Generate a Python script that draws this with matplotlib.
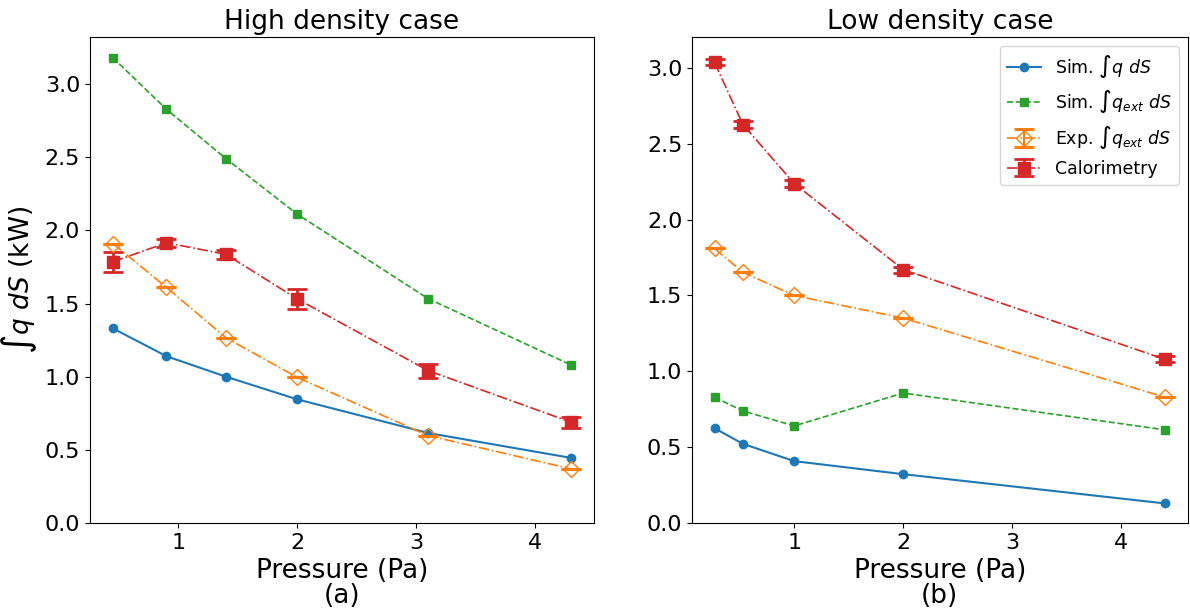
import matplotlib
matplotlib.use("Agg")
import matplotlib.pyplot as plt

# High density case
p_high = [0.45, 0.9, 1.4, 2.0, 3.1, 4.3]
sim_q_high = [1.33, 1.14, 1.00, 0.845, 0.615, 0.445]
sim_qext_high = [3.18, 2.827, 2.49, 2.11, 1.533, 1.08]
exp_qext_high = [1.91, 1.61, 1.266, 0.995, 0.597, 0.37]
exp_err_high = [0.0, 0.0, 0.0, 0.0, 0.0, 0.0]
cal_high = [1.785, 1.915, 1.836, 1.531, 1.041, 0.689]
cal_err_high = [0.07, 0.027, 0.032, 0.068, 0.048, 0.038]

# Low density case
p_low = [0.27, 0.53, 1.0, 2.0, 4.4]
sim_q_low = [0.625, 0.522, 0.408, 0.322, 0.129]
sim_qext_low = [0.829, 0.739, 0.64, 0.857, 0.614]
exp_qext_low = [1.81, 1.653, 1.5, 1.351, 0.829]
exp_err_low = [0.0, 0.0, 0.0, 0.0, 0.0]
cal_low = [3.037, 2.627, 2.238, 1.671, 1.079]
cal_err_low = [0.02, 0.02, 0.02, 0.02, 0.02]

labels = [r"Sim. $\int q\ dS$", r"Sim. $\int q_{ext}\ dS$",
          r"Exp. $\int q_{ext}\ dS$", "Calorimetry"]

fig = plt.figure(figsize=(11.9, 6.12), dpi=100)
ax1 = fig.add_axes([0.0756, 0.1454, 0.4235, 0.794])
ax2 = fig.add_axes([0.5815, 0.1454, 0.4165, 0.794])

def draw(ax, p, sq, sqe, eq, eqerr, cal, calerr):
    ax.plot(p, sq, '-o', color='tab:blue', lw=1.5, ms=6, label=labels[0])
    ax.plot(p, sqe, '--s', color='tab:green', lw=1.2, ms=6, label=labels[1])
    ax.errorbar(p, eq, yerr=eqerr, fmt='-.D', color='tab:orange', lw=1.2,
                ms=8, mfc='none', capsize=7.5, capthick=2.2,
                elinewidth=1.5, label=labels[2])
    ax.errorbar(p, cal, yerr=calerr, fmt='-.s', color='tab:red', lw=1.2,
                ms=8.5, capsize=7, capthick=2, elinewidth=2, label=labels[3])
    ax.set_ylim(bottom=0)
    ax.tick_params(labelsize=16)

draw(ax1, p_high, sim_q_high, sim_qext_high, exp_qext_high, exp_err_high,
     cal_high, cal_err_high)
draw(ax2, p_low, sim_q_low, sim_qext_low, exp_qext_low, exp_err_low,
     cal_low, cal_err_low)

ax1.set_title("High density case", fontsize=19)
ax2.set_title("Low density case", fontsize=19)
ax1.set_xlabel("Pressure (Pa)\n(a)", fontsize=19, linespacing=0.95)
ax2.set_xlabel("Pressure (Pa)\n(b)", fontsize=19, linespacing=0.95)
ax1.set_ylabel(r"$\int q\ dS$ (kW)", fontsize=19)

ax2.legend(loc='upper right', fontsize=12.5)

fig.savefig("out.png", dpi=100)
